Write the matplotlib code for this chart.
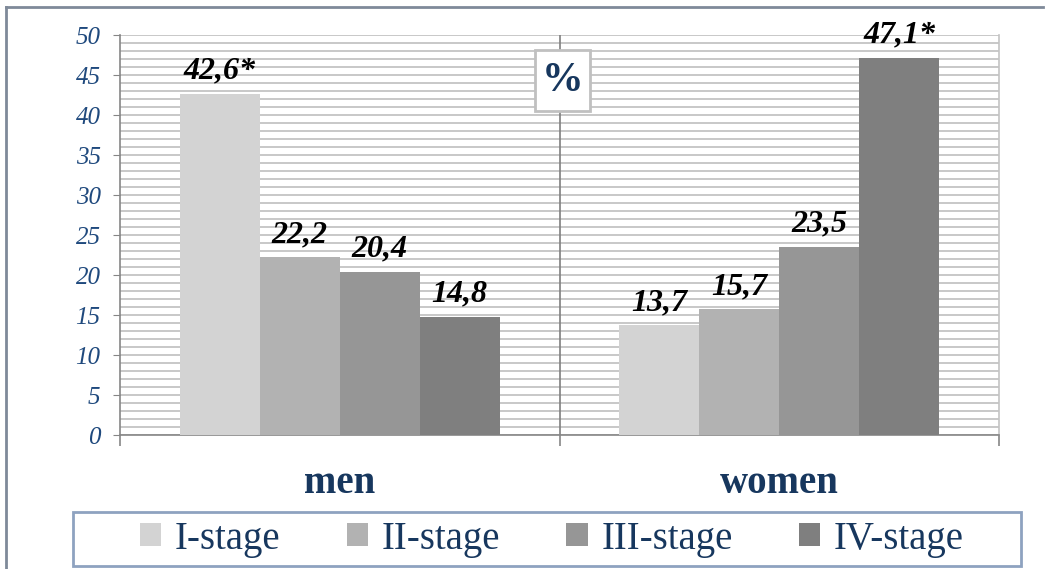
import numpy as np
import matplotlib.pyplot as plt
from matplotlib.patches import Rectangle, Patch
from matplotlib.lines import Line2D

# Data
groups = ["men", "women"]
stages = ["I-stage", "II-stage", "III-stage", "IV-stage"]
men_values = [42.6, 22.2, 20.4, 14.8]
women_values = [13.7, 15.7, 23.5, 47.1]
men_labels = ["42,6*", "22,2", "20,4", "14,8"]
women_labels = ["13,7", "15,7", "23,5", "47,1*"]
bar_colors = ["#d3d3d3", "#b2b2b2", "#969696", "#7f7f7f"]

navy = "#17375e"
tick_blue = "#1f497d"
serif = ["Liberation Serif", "DejaVu Serif"]
plt.rcParams['font.family'] = serif

fig = plt.figure(figsize=(10.52, 5.69), dpi=100)
ax = fig.add_axes([120 / 1052, 1 - 435 / 569, 879 / 1052, 400 / 569])

bar_w = 0.182
x = np.arange(len(groups))
series = list(zip(men_values, women_values))
labels = list(zip(men_labels, women_labels))
for i, stage in enumerate(stages):
    pos = x + (i - 1.5) * bar_w
    bars = ax.bar(pos, series[i], width=bar_w, color=bar_colors[i], zorder=3, label=stage)
    for b, txt in zip(bars, labels[i]):
        ax.annotate(txt, (b.get_x() + b.get_width() / 2, b.get_height()),
                    xytext=(0, 6), textcoords="offset points", ha="center", va="bottom",
                    fontsize=23, fontweight="bold", fontstyle="italic", color="black", zorder=5)

ax.set_xlim(-0.5, 1.5)
ax.set_ylim(0, 50)

# gridlines every unit
ax.set_yticks(range(0, 51, 5))
ax.set_yticks(range(0, 51, 1), minor=True)
ax.yaxis.grid(True, which="both", color="#c4c4c4", linewidth=1.3, zorder=0)
ax.set_axisbelow(True)
ax.axvline(0.5, color="#7f7f7f", linewidth=1.2, zorder=1)

ax.set_yticklabels([str(v) for v in range(0, 51, 5)], fontsize=18, fontstyle="italic", color=tick_blue)
ax.tick_params(axis="y", which="major", length=5, color="#868686", pad=9)
ax.tick_params(axis="y", which="minor", length=0)

ax.set_xticks(x)
ax.set_xticklabels([])
ax.set_xticks([-0.5, 0.5, 1.5], minor=True)
ax.tick_params(axis="x", which="major", length=0)
ax.tick_params(axis="x", which="minor", length=8, color="#868686", width=1.2)
for gx, g in zip(x, groups):
    ax.text(gx, -6.1, g, ha="center", va="center", fontsize=28, fontweight="bold", color=navy)

ax.spines["top"].set_visible(False)
ax.spines["right"].set_color("#c4c4c4")
ax.spines["left"].set_color("#868686")
ax.spines["bottom"].set_color("#868686")
for s in ["left", "bottom", "right"]:
    ax.spines[s].set_linewidth(1.2)

# percent box (drawn in pixel-ish figure coords, slightly taller than wide)
fig.patches.append(Rectangle((535 / 1052, 1 - 111 / 569), 55 / 1052, 61 / 569, transform=fig.transFigure,
                             facecolor="white", edgecolor="#c0c0c0", linewidth=2, zorder=6))
fig.text(562.5 / 1052, 1 - 81 / 569, "%", ha="center", va="center", fontsize=30, fontweight="bold",
         color=navy, zorder=7)

# legend box
fig.patches.append(Rectangle((73 / 1052, 1 - 566 / 569), 948 / 1052, 54 / 569, transform=fig.transFigure,
                             facecolor="white", edgecolor="#8ea2c0", linewidth=2))
handles = [Patch(facecolor=c, edgecolor="none") for c in bar_colors]
leg = fig.legend(handles, stages, loc="center", bbox_to_anchor=(552 / 1052, 1 - 539 / 569), ncol=4,
                 frameon=False, fontsize=28, handlelength=0.55, handleheight=0.55, handletextpad=0.35,
                 columnspacing=1.7, borderpad=0)
for t in leg.get_texts():
    t.set_color(navy)

# outer border (left and top)
fig.add_artist(Line2D([6 / 1052, 6 / 1052], [0, 1 - 7 / 569], transform=fig.transFigure, color="#7f8a99", linewidth=2))
fig.add_artist(Line2D([6 / 1052, 1043 / 1052], [1 - 7 / 569, 1 - 7 / 569], transform=fig.transFigure, color="#7f8a99", linewidth=2))

fig.savefig("out.png", dpi=100)
